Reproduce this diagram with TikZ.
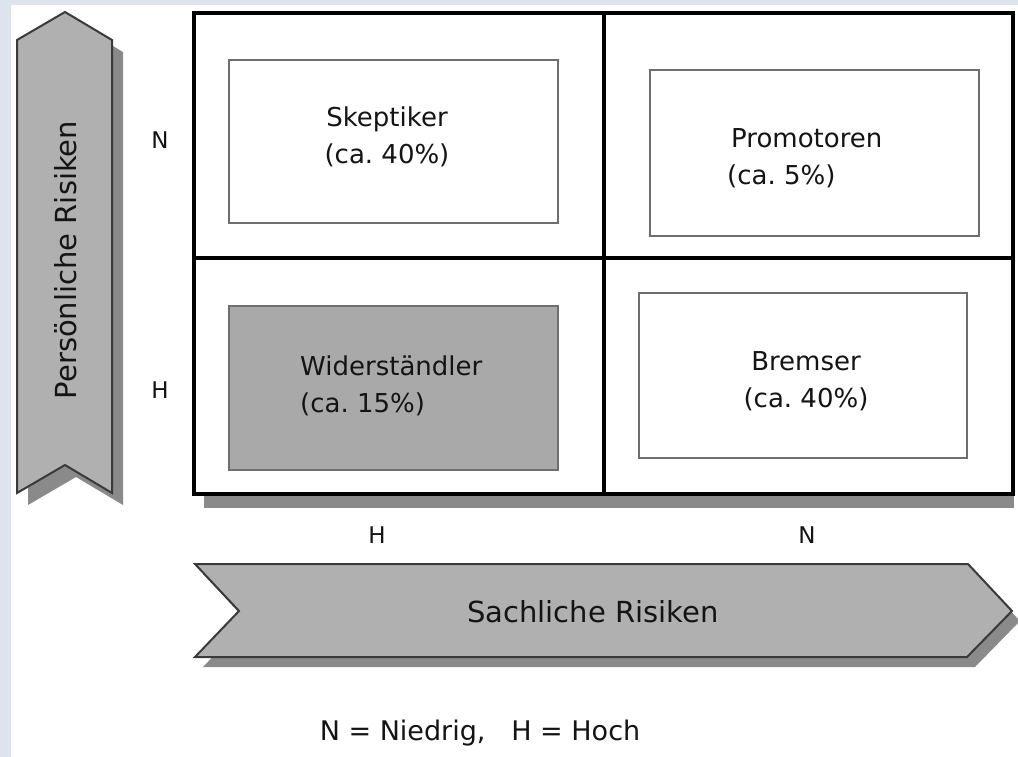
\documentclass[tikz,border=0pt]{standalone}
\usepackage{fontspec}
\setmainfont{DejaVu Sans}
\definecolor{bgblue}{HTML}{DDE4EB}
\definecolor{arrowgray}{HTML}{B0B0B0}
\definecolor{arrowedge}{HTML}{3A3A3A}
\definecolor{shadowgray}{HTML}{8A8A8A}
\definecolor{boxedge}{HTML}{6E6E6E}
\definecolor{darkfill}{HTML}{A9A9A9}
\definecolor{txt}{HTML}{141414}
\begin{document}
\begin{tikzpicture}[x=1pt,y=-1pt,
  boxtext/.style={font=\fontsize{26}{37}\selectfont, text=txt, inner sep=0pt},
  axislabel/.style={font=\fontsize{23}{27}\selectfont, text=txt, inner sep=0pt},
  arrowtext/.style={font=\fontsize{29}{34}\selectfont, text=txt, inner sep=0pt},
  legendtext/.style={font=\fontsize{27}{32}\selectfont, text=txt, inner sep=0pt},
  arrowshape/.style={fill=arrowgray, draw=arrowedge, line width=2pt, line join=miter},
  shadowshape/.style={fill=shadowgray},
  innerbox/.style={draw=boxedge, line width=2.5pt, fill=white, inner sep=0pt},
  gridline/.style={line width=4pt, draw=black, line cap=rect}]
\useasboundingbox (0,0) rectangle (1018,757);
% background
\fill[bgblue] (0,0) rectangle (1018,757);
\fill[white] (11,5) rectangle (1018,757);

% vertical arrow (Persoenliche Risiken)
\fill[shadowshape] (28,52) -- (76,24) -- (123,52) -- (123,505) -- (76,477) -- (28,505) -- cycle;
\draw[arrowshape] (17,40) -- (65,12) -- (112,40) -- (112,493) -- (65,465) -- (17,493) -- cycle;
\node[arrowtext, rotate=90] (persrisk) at (66,260) {Persönliche Risiken};

% horizontal arrow (Sachliche Risiken)
\fill[shadowshape] (203,574) -- (976,574) -- (1020,621) -- (975,667) -- (203,667) -- (247,621) -- cycle;
\draw[arrowshape] (195,564) -- (968,564) -- (1012,611) -- (967,657) -- (195,657) -- (239,611) -- cycle;
\node[arrowtext] (sachrisk) at (593,612) {Sachliche Risiken};

% grid
\fill[shadowshape] (204,26) rectangle (1014,508);
\node[draw=none, fill=white, minimum width=819pt, minimum height=481pt, inner sep=0pt] (grid) at (603.5,253.5) {};
\coordinate (gtop) at (604,13);
\coordinate (gbottom) at (604,494);
\coordinate (gleft) at (194,258);
\coordinate (gright) at (1013,258);
\draw[gridline] (grid.north west) rectangle (grid.south east);
\draw[gridline] (gtop) -- (gbottom);
\draw[gridline] (gleft) -- (gright);

% inner boxes
\node[innerbox, minimum width=329pt, minimum height=163pt] (skbox) at (393.5,141.5) {};
\node[innerbox, minimum width=329pt, minimum height=166pt] (prbox) at (814.5,153) {};
\node[innerbox, fill=darkfill, minimum width=329pt, minimum height=164pt] (wibox) at (393.5,388) {};
\node[innerbox, minimum width=328pt, minimum height=165pt] (brbox) at (803,375.5) {};

% box texts
\node[boxtext, align=center] (sk) at (387,137) {Skeptiker\\(ca.\ 40\%)};
\node[boxtext, align=left, anchor=west] (pr) at (727,158) {\hspace*{4pt}Promotoren\\(ca.\ 5\%)};
\node[boxtext, align=left, anchor=west] (wi) at (300,386) {Widerständler\\(ca.\ 15\%)};
\node[boxtext, align=center] (br) at (806,381) {Bremser\\(ca.\ 40\%)};

% axis labels
\node[axislabel] (ln) at (160,140) {N};
\node[axislabel] (lh) at (160,390) {H};
\node[axislabel] (bh) at (377,535) {H};
\node[axislabel] (bn) at (807,535) {N};

% legend
\node[legendtext] (legend) at (480,733) {N = Niedrig,~~~H = Hoch};
\end{tikzpicture}
\end{document}
